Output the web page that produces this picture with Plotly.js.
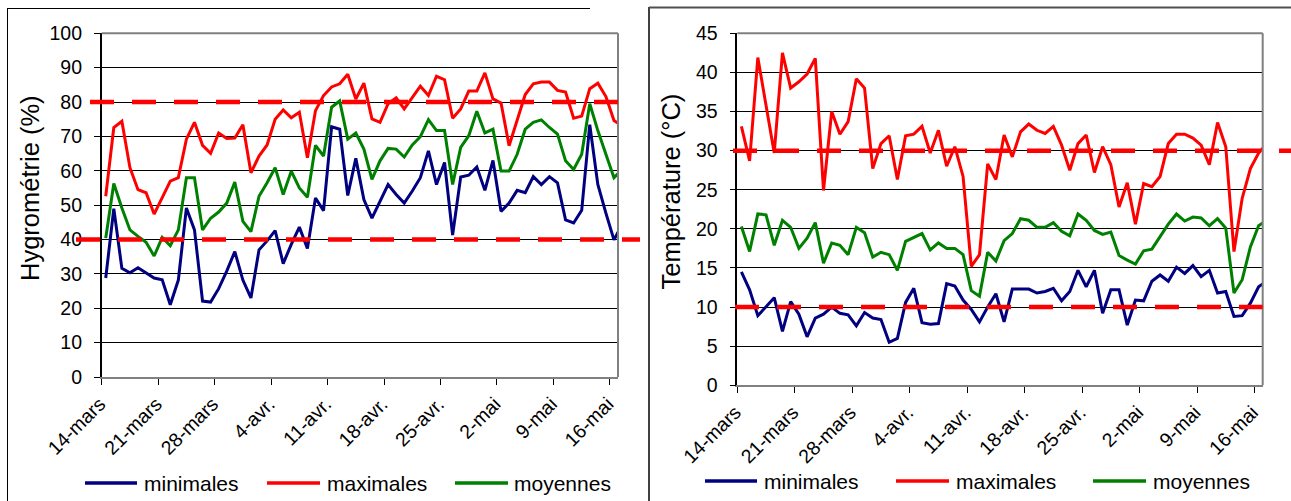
<!DOCTYPE html>
<html>
<head>
<meta charset="utf-8">
<script src="https://cdn.plot.ly/plotly-3.0.1.min.js"></script>
<style>
html, body { margin: 0; padding: 0; background: #ffffff; }
#chart { width: 1291px; height: 501px; }
</style>
</head>
<body>
<div id="chart"></div>
<script>
// ---- Data ----
const dates = [
  '2009-03-14','2009-03-15','2009-03-16','2009-03-17','2009-03-18','2009-03-19','2009-03-20','2009-03-21','2009-03-22','2009-03-23',
  '2009-03-24','2009-03-25','2009-03-26','2009-03-27','2009-03-28','2009-03-29','2009-03-30','2009-03-31','2009-04-01','2009-04-02',
  '2009-04-03','2009-04-04','2009-04-05','2009-04-06','2009-04-07','2009-04-08','2009-04-09','2009-04-10','2009-04-11','2009-04-12',
  '2009-04-13','2009-04-14','2009-04-15','2009-04-16','2009-04-17','2009-04-18','2009-04-19','2009-04-20','2009-04-21','2009-04-22',
  '2009-04-23','2009-04-24','2009-04-25','2009-04-26','2009-04-27','2009-04-28','2009-04-29','2009-04-30','2009-05-01','2009-05-02',
  '2009-05-03','2009-05-04','2009-05-05','2009-05-06','2009-05-07','2009-05-08','2009-05-09','2009-05-10','2009-05-11','2009-05-12',
  '2009-05-13','2009-05-14','2009-05-15','2009-05-16','2009-05-17'
];
const tickDates = ['2009-03-14','2009-03-21','2009-03-28','2009-04-04','2009-04-11','2009-04-18','2009-04-25','2009-05-02','2009-05-09','2009-05-16'];
const tickLabels = ['14-mars','21-mars','28-mars','4-avr.','11-avr.','18-avr.','25-avr.','2-mai','9-mai','16-mai'];
const seriesNames = ['minimales', 'maximales', 'moyennes'];

const hygroMin = [
  28.8, 49, 31.6, 30.3, 31.8, 30.4, 28.8, 28.3, 21, 28.2,
  49.2, 42.8, 22.1, 21.8, 25.7, 30.8, 36.5, 28.2, 23, 37,
  39.6, 42.6, 33, 38.6, 43.6, 37.4, 52.1, 48.4, 72.8, 72.1,
  52.8, 63.6, 51.6, 46.2, 51.1, 56, 53.1, 50.6, 54.1, 58,
  65.8, 56, 62.4, 41.3, 58.2, 58.7, 61.1, 54.3, 63, 48.2,
  50.6, 54.3, 53.6, 58.3, 56, 58.3, 56.5, 45.7, 44.8, 48.5,
  73.4, 56, 47.7, 39.9, 44.3
];
const hygroMax = [
  52.6, 72.6, 74.4, 60.9, 54.5, 53.6, 47.4, 52.1, 57, 58,
  69.2, 74.1, 67.4, 65.1, 71, 69.4, 69.5, 73.4, 59.4, 64.3,
  67.5, 75, 77.7, 75.4, 77, 63.8, 77.5, 81.9, 84.4, 85.3,
  88.1, 80.9, 85.5, 75.1, 74.1, 79.5, 81.2, 78, 81.2, 84.6,
  81.9, 87.5, 86.5, 75.3, 78, 83.2, 83.2, 88.5, 80.9, 79.7,
  67.3, 74.6, 82.2, 85.3, 85.8, 85.8, 83.4, 82.9, 75.3, 75.9,
  83.9, 85.5, 81.6, 74.6, 73.1
];
const hygroMoy = [
  40.4, 56.3, 49.2, 42.8, 40.9, 39.2, 35.2, 40.6, 38.2, 42.8,
  58, 58, 42.8, 46.2, 48, 50.6, 56.7, 45.3, 42.3, 52.6,
  56.5, 60.9, 53.1, 59.9, 55, 52.3, 67.4, 64.3, 78.5, 80.3,
  69.2, 71, 66.3, 57.5, 62.9, 66.5, 66.3, 64, 67.5, 69.9,
  74.9, 71.7, 71.7, 56, 66.8, 70.2, 77.3, 71, 72.1, 59.9,
  59.9, 64.8, 72.1, 74.1, 74.8, 72.6, 70.7, 62.9, 60.4, 64.8,
  79.5, 71.7, 64.8, 58, 60.4
];
const tempMin = [
  14.5, 12.2, 8.9, 10, 11.2, 6.9, 10.7, 9.1, 6.2, 8.6,
  9.1, 10, 9.2, 9, 7.6, 9.3, 8.6, 8.4, 5.5, 6,
  10.6, 12.4, 8, 7.8, 7.9, 13, 12.7, 10.9, 9.7, 8.1,
  10, 11.7, 8.1, 12.3, 12.3, 12.3, 11.8, 12, 12.4, 10.8,
  12, 14.7, 12.6, 14.7, 9.2, 12.2, 12.2, 7.7, 10.9, 10.8,
  13.3, 14.1, 13.3, 15.1, 14.3, 15.3, 13.9, 14.7, 11.8, 12,
  8.8, 8.9, 10.5, 12.6, 13.3
];
const tempMax = [
  33.1, 28.7, 41.9, 36, 29.7, 42.5, 38, 38.8, 39.8, 41.8,
  24.9, 35, 32.1, 33.7, 39.2, 38, 27.7, 30.9, 31.9, 26.3,
  31.9, 32.1, 33.1, 29.7, 32.6, 28, 30.5, 26.7, 15.2, 16.7,
  28.3, 26.3, 32, 29.2, 32.4, 33.4, 32.6, 32.2, 33.1, 30.7,
  27.5, 30.9, 32, 27.2, 30.5, 28.2, 22.8, 25.9, 20.6, 25.8,
  25.4, 26.7, 30.9, 32.1, 32.1, 31.6, 30.7, 28.2, 33.6, 30.5,
  17.1, 23.9, 27.7, 29.7, 30.9
];
const tempMoy = [
  20.3, 17.1, 21.9, 21.8, 17.9, 21.1, 20.2, 17.5, 18.8, 20.8,
  15.6, 18.2, 17.9, 16.7, 20.2, 19.5, 16.4, 17, 16.7, 14.7,
  18.4, 18.9, 19.4, 17.3, 18.2, 17.5, 17.5, 16.7, 12.1, 11.4,
  17, 15.9, 18.5, 19.4, 21.3, 21.1, 20.2, 20.2, 20.8, 19.7,
  19.1, 21.9, 21.1, 19.8, 19.3, 19.6, 16.6, 16, 15.5, 17.2,
  17.4, 19, 20.6, 21.9, 21, 21.5, 21.4, 20.4, 21.3, 20.1,
  11.8, 13.5, 17.7, 20.4, 21.1
];
const hygroLimits = [80, 40];
const tempLimits = [30, 10];

// ---- Layout helpers ----
const W = 1291, H = 501;
const px = v => v / W;
const py = v => 1 - v / H;
const FONT = 'Liberation Sans, Arial, sans-serif';
const colors = ['#000080', '#FF0000', '#008000'];

function series(x, ys, xa, ya) {
  return ys.map((y, k) => ({
    type: 'scatter', mode: 'lines', name: seriesNames[k],
    x: x, y: y, xaxis: xa, yaxis: ya, showlegend: false,
    xperiod: 86400000, xperiodalignment: 'middle',
    line: { color: colors[k], width: 3 },
    hoverinfo: 'x+y+name'
  }));
}

const traces = [
  ...series(dates, [hygroMin, hygroMax, hygroMoy], 'x', 'y'),
  ...series(dates, [tempMin, tempMax, tempMoy], 'x2', 'y2')
];

function xAxis(dom, anchor) {
  return {
    type: 'date', domain: dom, anchor: anchor,
    range: ['2009-03-14', '2009-05-17'],
    tickmode: 'array', tickvals: tickDates, ticktext: tickLabels,
    tickangle: -45, ticks: 'outside', ticklen: 6, tickcolor: '#000', tickwidth: 1,
    ticklabelshift: -2, ticklabelstandoff: 0,
    showgrid: false, zeroline: false,
    showline: true, linecolor: '#808080', linewidth: 2,
    tickfont: { family: FONT, size: 19.5, color: '#000' },
    fixedrange: true
  };
}
function yAxis(dom, anchor, range, dtick) {
  return {
    domain: dom, anchor: anchor, range: range, dtick: dtick, tick0: 0,
    ticks: 'outside', ticklen: 6, tickcolor: '#000', tickwidth: 1,
    showline: true, linecolor: '#000', linewidth: 1.5,
    showgrid: true, gridcolor: '#000', gridwidth: 1,
    zeroline: false, ticklabelstandoff: 8,
    tickfont: { family: FONT, size: 19.5, color: '#000' },
    fixedrange: true
  };
}

const dashStyle = { color: '#FF0000', width: 4.5, dash: '24px,18px' };
const borderStyle = { color: '#808080', width: 2 };
const shapes = [
  // plot-area borders (top and right edges)
  { type: 'line', xref: 'x domain', yref: 'y domain', x0: 0, x1: 1, y0: 1, y1: 1, line: borderStyle },
  { type: 'line', xref: 'x domain', yref: 'y domain', x0: 1, x1: 1, y0: 0, y1: 1, line: borderStyle },
  { type: 'line', xref: 'x2 domain', yref: 'y2 domain', x0: 0, x1: 1, y0: 1, y1: 1, line: borderStyle },
  { type: 'line', xref: 'x2 domain', yref: 'y2 domain', x0: 1, x1: 1, y0: 0, y1: 1, line: borderStyle },
  // threshold lines
  { type: 'line', xref: 'paper', yref: 'y', x0: px(90), x1: px(618), y0: hygroLimits[0], y1: hygroLimits[0], line: dashStyle },
  { type: 'line', xref: 'paper', yref: 'y', x0: px(76), x1: px(640), y0: hygroLimits[1], y1: hygroLimits[1], line: dashStyle },
  { type: 'line', xref: 'paper', yref: 'y2', x0: px(733), x1: px(1291), y0: tempLimits[0], y1: tempLimits[0], line: dashStyle },
  { type: 'line', xref: 'paper', yref: 'y2', x0: px(735), x1: px(1262.7), y0: tempLimits[1], y1: tempLimits[1], line: dashStyle },
  // chart frames
  { type: 'line', xref: 'paper', yref: 'paper', x0: px(7.5), x1: px(7.5), y0: 0, y1: py(8), line: { color: '#000', width: 1 } },
  { type: 'line', xref: 'paper', yref: 'paper', x0: px(7.5), x1: px(590), y0: py(8.5), y1: py(8.5), line: { color: '#000', width: 1 } },
  { type: 'line', xref: 'paper', yref: 'paper', x0: px(649), x1: px(649), y0: 0, y1: py(7), line: { color: '#000', width: 1.5 } },
  { type: 'line', xref: 'paper', yref: 'paper', x0: px(649), x1: 1, y0: py(7.5), y1: py(7.5), line: { color: '#505050', width: 2 } }
];

const annotations = [
  { text: 'Hygrométrie (%)', xref: 'paper', yref: 'paper', x: px(30), y: py(188),
    textangle: -90, showarrow: false, xanchor: 'center', yanchor: 'middle',
    font: { family: FONT, size: 25.5, color: '#000' } },
  { text: 'Température (°C)', xref: 'paper', yref: 'paper', x: px(670), y: py(191.5),
    textangle: -90, showarrow: false, xanchor: 'center', yanchor: 'middle',
    font: { family: FONT, size: 25.5, color: '#000' } }
];

// ---- Legends (one under each panel), built from the series names and colours ----
const legendSpots = [
  { y: 483, items: [[85, 137, 142], [267, 320, 325], [455, 508, 512]] },
  { y: 481, items: [[705, 757, 762], [896, 949, 954], [1093, 1146, 1151]] }
];
legendSpots.forEach(spot => {
  spot.items.forEach((it, k) => {
    shapes.push({ type: 'line', xref: 'paper', yref: 'paper',
      x0: px(it[0]), x1: px(it[1]), y0: py(spot.y), y1: py(spot.y),
      line: { color: colors[k], width: 3.5 } });
    annotations.push({ text: seriesNames[k], xref: 'paper', yref: 'paper',
      x: px(it[2]), y: py(spot.y), xanchor: 'left', yanchor: 'middle', showarrow: false,
      font: { family: FONT, size: 21, color: '#000' } });
  });
});

const layout = {
  width: W, height: H,
  margin: { l: 0, r: 0, t: 0, b: 0 },
  paper_bgcolor: '#ffffff', plot_bgcolor: '#ffffff',
  font: { family: FONT, color: '#000' },
  showlegend: false,
  xaxis: xAxis([px(101.7), px(618)], 'y'),
  yaxis: yAxis([py(377), py(33.3)], 'x', [0, 100], 10),
  xaxis2: xAxis([px(737.3), px(1262.7)], 'y2'),
  yaxis2: yAxis([py(385.3), py(33.3)], 'x2', [0, 45], 5),
  shapes: shapes,
  annotations: annotations,
  hovermode: 'closest'
};

Plotly.newPlot('chart', traces, layout, { displayModeBar: false, responsive: false });
</script>
</body>
</html>
